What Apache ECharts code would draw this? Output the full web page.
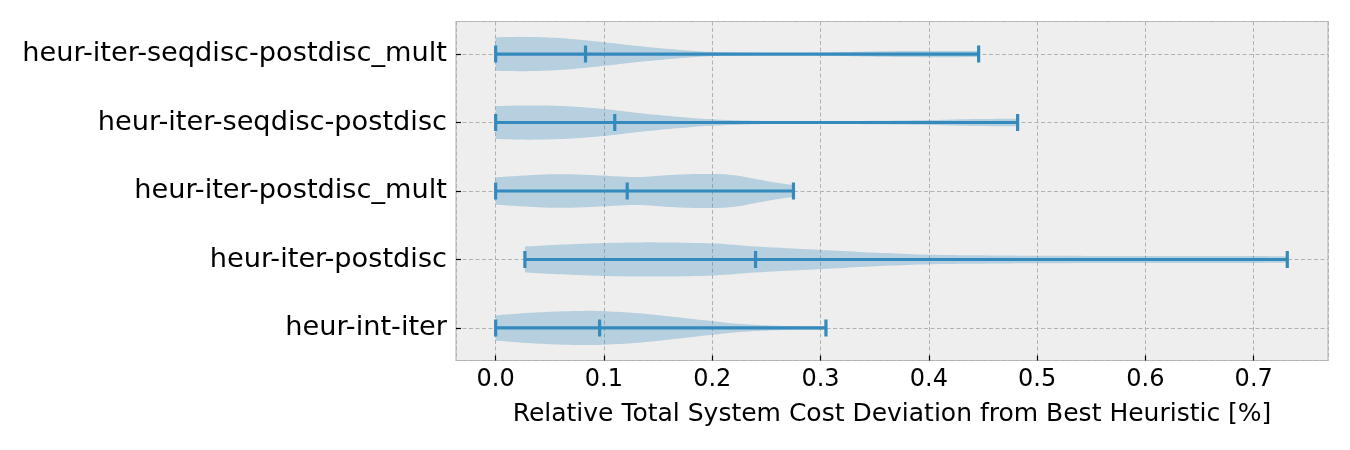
<!DOCTYPE html>
<html><head><meta charset="utf-8">
<script src="https://cdn.jsdelivr.net/npm/echarts@6/dist/echarts.min.js"></script>
<style>html,body{margin:0;padding:0;background:#fff}#c{width:1350px;height:450px}</style>
</head><body><div id="c"></div>
<script>
// Categories bottom to top
const categories = ['heur-int-iter', 'heur-iter-postdisc', 'heur-iter-postdisc_mult', 'heur-iter-seqdisc-postdisc', 'heur-iter-seqdisc-postdisc_mult'];
const mins = [0.0, 0.027, 0.0, 0.0, 0.0];
const maxs = [0.305, 0.731, 0.275, 0.482, 0.446];
const centers = [0.096, 0.240, 0.1215, 0.110, 0.083];
// density profiles: positions along value axis and relative half-widths (1 = widest)
const densX0 = [0, 0.025, 0.055, 0.086, 0.1, 0.132, 0.163, 0.2, 0.225, 0.255, 0.286, 0.305];
const densW0 = [0.74, 0.86, 0.96, 1.0, 0.98, 0.86, 0.66, 0.4, 0.24, 0.14, 0.1, 0.1];
const densX1 = [0.027, 0.066, 0.1, 0.144, 0.2, 0.24, 0.3, 0.351, 0.4, 0.455, 0.5, 0.6, 0.7, 0.731];
const densW1 = [0.76, 0.88, 0.96, 1.0, 0.94, 0.76, 0.56, 0.4, 0.28, 0.24, 0.22, 0.2, 0.2, 0.18];
const densX2 = [0, 0.025, 0.055, 0.086, 0.117, 0.135, 0.163, 0.194, 0.218, 0.24, 0.258, 0.275];
const densW2 = [0.8, 0.9, 0.98, 0.94, 0.84, 0.82, 0.94, 1.0, 0.94, 0.7, 0.5, 0.34];
const densX3 = [0, 0.029, 0.062, 0.1, 0.128, 0.161, 0.194, 0.227, 0.26, 0.3, 0.35, 0.4, 0.44, 0.482];
const densW3 = [0.96, 1.0, 0.96, 0.79, 0.58, 0.375, 0.21, 0.125, 0.08, 0.08, 0.1, 0.14, 0.2, 0.22];
const densX4 = [0, 0.029, 0.062, 0.1, 0.128, 0.161, 0.194, 0.227, 0.26, 0.293, 0.326, 0.358, 0.391, 0.446];
const densW4 = [0.98, 1.0, 0.92, 0.69, 0.49, 0.29, 0.14, 0.08, 0.06, 0.07, 0.12, 0.16, 0.18, 0.18];
const xTickLabels = ['0.0', '0.1', '0.2', '0.3', '0.4', '0.5', '0.6', '0.7'];

const densX = [densX0, densX1, densX2, densX3, densX4];
const densW = [densW0, densW1, densW2, densW3, densW4];

const COLOR = '#348ABD';
const FONT = 'DejaVu Sans';

function smoothSample(pts) {
  const out = [];
  const n = pts.length;
  for (let i = 0; i < n - 1; i++) {
    const p0 = pts[i - 1] || pts[i], p1 = pts[i], p2 = pts[i + 1], p3 = pts[i + 2] || pts[i + 1];
    const c1 = [p1[0] + (p2[0] - p0[0]) / 6, p1[1] + (p2[1] - p0[1]) / 6];
    const c2 = [p2[0] - (p3[0] - p1[0]) / 6, p2[1] - (p3[1] - p1[1]) / 6];
    const steps = 10;
    for (let s = 0; s < steps; s++) {
      const t = s / steps, u = 1 - t;
      out.push([
        u * u * u * p1[0] + 3 * u * u * t * c1[0] + 3 * u * t * t * c2[0] + t * t * t * p2[0],
        u * u * u * p1[1] + 3 * u * u * t * c1[1] + 3 * u * t * t * c2[1] + t * t * t * p2[1]
      ]);
    }
  }
  out.push(pts[n - 1]);
  return out;
}

function renderItem(params, api) {
  const i = params.dataIndex;
  const yv = api.value(1);
  const band = api.size([0, 1])[1];
  const half = 0.25 * band;
  const xs = densX[i], ws = densW[i];
  const top = xs.map((x, j) => { const p = api.coord([x, yv]); return [p[0], p[1] - ws[j] * half]; });
  const bot = xs.map((x, j) => { const p = api.coord([x, yv]); return [p[0], p[1] + ws[j] * half]; });
  const poly = smoothSample(top).concat(smoothSample(bot).reverse());
  const pMin = api.coord([api.value(0), yv]);
  const pMax = api.coord([api.value(2), yv]);
  const pMid = api.coord([api.value(3), yv]);
  const cap = 0.125 * band;
  const ls = { stroke: COLOR, lineWidth: 3.2 };
  return {
    type: 'group',
    children: [
      { type: 'polygon', shape: { points: poly }, style: { fill: COLOR, opacity: 0.3 } },
      { type: 'line', shape: { x1: pMin[0], y1: pMin[1], x2: pMax[0], y2: pMax[1] }, style: ls },
      { type: 'line', shape: { x1: pMin[0], y1: pMin[1] - cap, x2: pMin[0], y2: pMin[1] + cap }, style: ls },
      { type: 'line', shape: { x1: pMax[0], y1: pMax[1] - cap, x2: pMax[0], y2: pMax[1] + cap }, style: ls },
      { type: 'line', shape: { x1: pMid[0], y1: pMid[1] - cap, x2: pMid[0], y2: pMid[1] + cap }, style: ls }
    ]
  };
}

function isMult(v, step) { return Math.abs(v / step - Math.round(v / step)) < 1e-6; }

const chart = echarts.init(document.getElementById('c'));
chart.setOption({
  animation: false,
  backgroundColor: '#ffffff',
  grid: { left: 456, right: 22, top: 21.5, bottom: 89.5, show: true, backgroundColor: '#eeeeee', borderColor: '#bcbcbc', borderWidth: 1.2 },
  xAxis: {
    type: 'value', min: -0.0366, max: 0.7686, minInterval: 0.1, maxInterval: 0.1,
    axisLine: { show: false, onZero: false },
    axisTick: { inside: true, length: 5, lineStyle: { color: '#000', width: 1.2 } },
    axisLabel: {
      showMinLabel: false, showMaxLabel: false, margin: 7,
      fontFamily: FONT, fontSize: 24, color: '#000',
      formatter: v => { if (!isMult(v, 0.1)) return ''; const k = Math.round(v * 10); return xTickLabels[k] || ''; }
    },
    splitLine: { show: true, lineStyle: { color: '#b2b2b2', type: [4, 2.5], width: 1 } },
    name: 'Relative Total System Cost Deviation from Best Heuristic [%]',
    nameLocation: 'middle', nameGap: 41,
    nameTextStyle: { fontFamily: FONT, fontSize: 25, color: '#000' }
  },
  yAxis: {
    type: 'value', min: 0.525, max: 5.475, minInterval: 1, maxInterval: 1,
    axisLine: { show: false, onZero: false },
    axisTick: { inside: true, length: 5, lineStyle: { color: '#000', width: 1.2 } },
    axisLabel: {
      showMinLabel: false, showMaxLabel: false, margin: 9,
      fontFamily: FONT, fontSize: 27.2, color: '#000',
      formatter: v => { if (!isMult(v, 1)) return ''; return categories[Math.round(v) - 1] || ''; }
    },
    splitLine: { show: true, lineStyle: { color: '#b2b2b2', type: [4, 2.5], width: 1 } }
  },
  series: [{
    type: 'custom',
    renderItem: renderItem,
    clip: true,
    data: categories.map((c, i) => [mins[i], i + 1, maxs[i], centers[i]])
  }]
});
</script>
</body></html>
